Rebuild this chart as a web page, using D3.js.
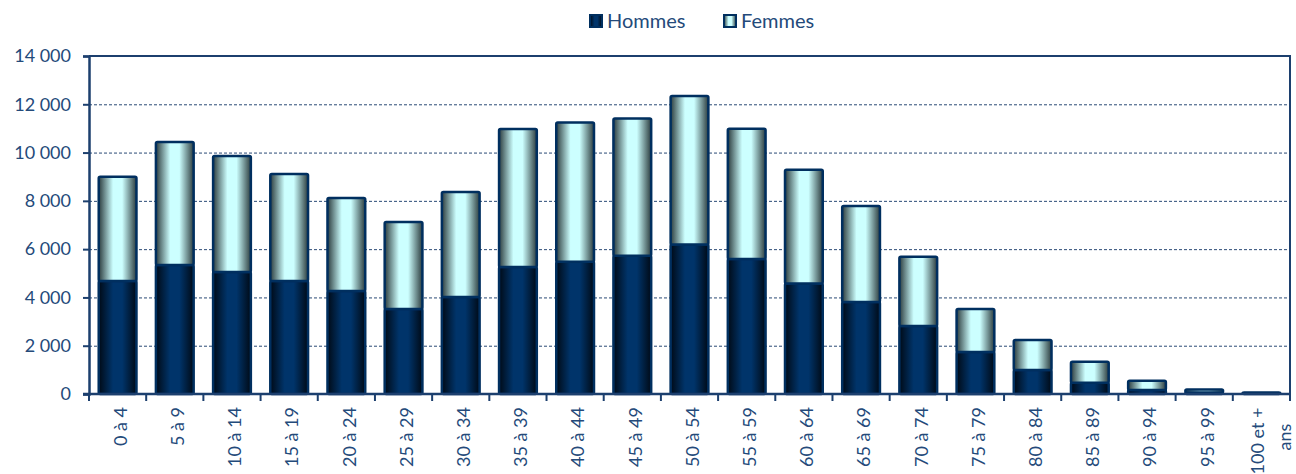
<!DOCTYPE html>
<html>
<head>
<meta charset="utf-8">
<script src="https://cdn.jsdelivr.net/npm/d3@7"></script>
<style>
  body { margin: 0; background: #fff; }
  svg text { font-family: Lato, "Open Sans", sans-serif; fill: #244a7a; }
</style>
</head>
<body>
<div id="chart"></div>
<script>
const AGE_GROUPS = ['0 à 4', '5 à 9', '10 à 14', '15 à 19', '20 à 24', '25 à 29', '30 à 34', '35 à 39',
  '40 à 44', '45 à 49', '50 à 54', '55 à 59', '60 à 64', '65 à 69', '70 à 74', '75 à 79',
  '80 à 84', '85 à 89', '90 à 94', '95 à 99', '100 et + ans'];
const HOMMES = [4680, 5340, 5050, 4680, 4270, 3520, 4020, 5260, 5480, 5730, 6190, 5590, 4580,
  3810, 2820, 1740, 990, 470, 170, 60, 15];
const FEMMES = [4320, 5100, 4810, 4430, 3850, 3600, 4350, 5720, 5770, 5680, 6150, 5400, 4710,
  3980, 2860, 1780, 1250, 870, 380, 130, 50];
const Y_TICKS = [0, 2000, 4000, 6000, 8000, 10000, 12000, 14000];
const SERIES = ['Hommes', 'Femmes'];

const width = 1296;
const height = 474;
const margin = { top: 56, right: 6, bottom: 80, left: 89 };
const axisColor = '#1c3f6e';

const svg = d3.select('#chart')
  .append('svg')
  .attr('width', width)
  .attr('height', height);

// gradients: dark edges, light centre
const defs = svg.append('defs');
const addGradient = (id, edge, mid) => {
  const g = defs.append('linearGradient').attr('id', id)
    .attr('x1', '0%').attr('x2', '100%').attr('y1', '0%').attr('y2', '0%');
  g.append('stop').attr('offset', '0%').attr('stop-color', edge);
  g.append('stop').attr('offset', '38%').attr('stop-color', mid);
  g.append('stop').attr('offset', '62%').attr('stop-color', mid);
  g.append('stop').attr('offset', '100%').attr('stop-color', edge);
};
addGradient('gradHommes', '#000a16', '#00346a');
addGradient('gradFemmes', '#2c3c3e', '#ccffff');

const x = d3.scaleBand()
  .domain(AGE_GROUPS)
  .range([margin.left, width - margin.right])
  .paddingInner(0.34)
  .paddingOuter(0.17);

const y = d3.scaleLinear()
  .domain([0, 14000])
  .range([height - margin.bottom, margin.top]);

const fmt = d3.formatLocale({ decimal: ',', thousands: ' ', grouping: [3], currency: ['', ' €'] }).format(',d');

// dashed gridlines
svg.append('g')
  .selectAll('line')
  .data(Y_TICKS.filter((d) => d > 0 && d < 14000))
  .join('line')
  .attr('x1', margin.left)
  .attr('x2', width - margin.right)
  .attr('y1', (d) => y(d) + 0.5)
  .attr('y2', (d) => y(d) + 0.5)
  .attr('stroke', '#2a4a75')
  .attr('stroke-width', 1)
  .attr('stroke-dasharray', '3,2');

// plot border (top + right)
svg.append('path')
  .attr('d', `M${margin.left},${y(14000)}H${width - margin.right}V${y(0)}`)
  .attr('fill', 'none')
  .attr('stroke', axisColor)
  .attr('stroke-width', 2);

// stacked bars
const stacked = d3.stack().keys(SERIES)(AGE_GROUPS.map((a, i) => ({
  age: a, Hommes: HOMMES[i], Femmes: FEMMES[i],
})));

svg.append('g')
  .selectAll('g')
  .data(stacked)
  .join('g')
  .attr('fill', (s) => `url(#grad${s.key})`)
  .selectAll('rect')
  .data((s) => s)
  .join('rect')
  .attr('x', (d) => x(d.data.age))
  .attr('y', (d) => y(d[1]))
  .attr('width', x.bandwidth())
  .attr('height', (d) => Math.max(0, y(d[0]) - y(d[1])))
  .attr('rx', 1.5)
  .attr('stroke', '#002f5f')
  .attr('stroke-width', 2.5);

// y axis
const yAxis = svg.append('g')
  .attr('transform', `translate(${margin.left},0)`)
  .call(d3.axisLeft(y).tickValues(Y_TICKS).tickFormat(fmt).tickSize(6).tickPadding(12));
yAxis.select('.domain').attr('stroke', axisColor).attr('stroke-width', 2.5);
yAxis.selectAll('.tick line').attr('stroke', axisColor).attr('stroke-width', 2);
yAxis.selectAll('.tick text').style('font-size', '18px').attr('fill', '#244a7a');

// x axis line with ticks at band boundaries
const xAxisG = svg.append('g');
xAxisG.append('line')
  .attr('x1', margin.left - 6)
  .attr('x2', width - margin.right)
  .attr('y1', y(0))
  .attr('y2', y(0))
  .attr('stroke', axisColor)
  .attr('stroke-width', 2.5);
const boundaries = AGE_GROUPS.map((a) => x(a) - (x.step() - x.bandwidth()) / 2)
  .concat([width - margin.right]);
xAxisG.selectAll('.xt')
  .data(boundaries)
  .join('line')
  .attr('class', 'xt')
  .attr('x1', (d) => d)
  .attr('x2', (d) => d)
  .attr('y1', y(0))
  .attr('y2', y(0) + 7)
  .attr('stroke', axisColor)
  .attr('stroke-width', 2);

// x labels, rotated
xAxisG.selectAll('.xl')
  .data(AGE_GROUPS)
  .join('text')
  .attr('class', 'xl')
  .attr('transform', (d) => `translate(${x(d) + x.bandwidth() / 2 + 3},${y(0) + 13}) rotate(-90)`)
  .attr('dy', '0.35em')
  .style('font-size', '18px')
  .each(function (d) {
    const t = d3.select(this);
    if (d === '100 et + ans') {
      t.attr('text-anchor', 'middle');
      t.append('tspan').attr('x', -34).attr('dy', '0em').text('100 et +');
      t.append('tspan').attr('x', -30).attr('dy', '1.5em').text('ans');
    } else {
      t.attr('text-anchor', 'end').text(d);
    }
  });

// legend
const legend = svg.append('g');
const legendX = [589, 723];
SERIES.forEach((s, i) => {
  legend.append('rect')
    .attr('x', legendX[i] + 1)
    .attr('y', 15)
    .attr('width', 12)
    .attr('height', 12)
    .attr('fill', `url(#grad${s})`)
    .attr('stroke', '#002f5f')
    .attr('stroke-width', 2);
  legend.append('text')
    .attr('x', legendX[i] + 18)
    .attr('y', 21)
    .attr('dy', '0.35em')
    .style('font-size', '20px')
    .text(s);
});
</script>
</body>
</html>
